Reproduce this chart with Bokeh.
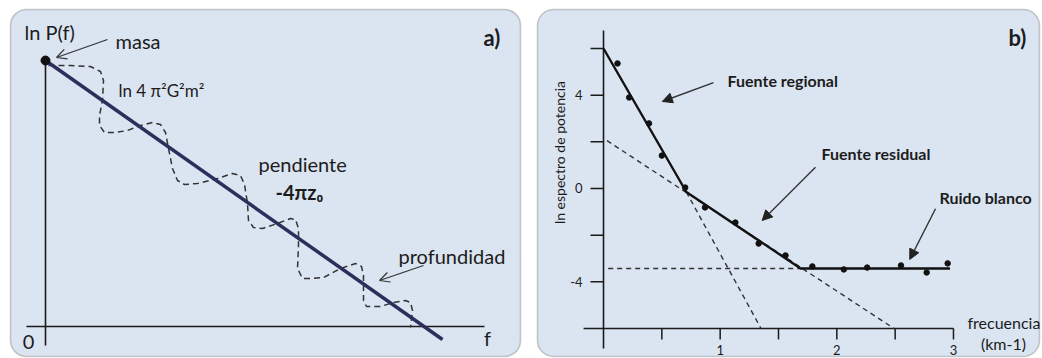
from bokeh.plotting import figure
from bokeh.layouts import row
from bokeh.models import BoxAnnotation, Arrow, OpenHead, NormalHead
from bokeh.core.properties import value
from bokeh.embed import file_html
from bokeh.resources import INLINE

FONT = value("Lato")
TXT = "#1c1c1c"
PANEL_FILL = "#dbe4f1"
PANEL_LINE = "#5a5a5a"
NAVY = "#2c2f5c"

# ---------------- panel a data (schematic units) ----------------
a_f_axis = [-19, 439]          # extent of the f axis
a_p_axis = [-19, 266]          # extent of the ln P(f) axis
a_line_f = [0, 397]            # straight spectrum line
a_line_lnp = [266, -13]
a_mass_point = (0, 266)
a_wave_f = [3, 25, 45, 55, 58, 57, 54, 54, 59, 70, 82, 95, 107, 115, 120, 123, 127, 132,
            139, 152, 172, 187, 195, 199, 202, 203, 208, 217, 232, 245, 250, 253, 253,
            252, 257, 267, 278, 295, 310, 316, 318, 318, 321, 335, 348, 360, 365, 367, 365]
a_wave_lnp = [261, 261, 260, 255, 246, 226, 211, 201, 194, 194, 196, 201, 204, 202, 194,
              178, 158, 146, 142, 143, 148, 153, 151, 142, 123, 106, 99, 98, 103, 108, 107,
              98, 81, 58, 48, 48, 49, 58, 63, 60, 51, 26, 20, 20, 24, 26, 24, 16, -1]

# ---------------- panel b data ----------------
b_freq = [0.12, 0.22, 0.39, 0.50, 0.70, 0.87, 1.13, 1.33, 1.56, 1.79, 2.06, 2.26, 2.55, 2.77, 2.95]
b_lnp = [5.36, 3.90, 2.79, 1.41, 0.04, -0.81, -1.46, -2.36, -2.87, -3.34, -3.47, -3.39, -3.30, -3.60, -3.21]
b_fit_x = [0.0, 0.71, 1.69, 2.97]
b_fit_y = [6.0, -0.15, -3.43, -3.43]
b_regional_x = [0.71, 1.35]
b_regional_y = [-0.15, -6.0]
b_residual_x = [0.03, 2.49]
b_residual_y = [2.05, -6.0]
b_noise_x = [0.04, 1.69]
b_noise_y = [-3.43, -3.43]
b_xticks = [0.5, 1.0, 1.5, 2.0, 2.5, 3.0]
b_yticks = [6, 4, 2, 0, -2, -4]
b_xlabels = ["1", "2", "3"]
b_xlabel_pos = [1.0, 2.0, 3.0]
b_ylabels = ["4", "0", "-4"]
b_ylabel_pos = [4, 0, -4]
b_x_axis_extent = [-0.171, 3.0]
b_y_axis_extent = [-6.86, 6.77]
b_x_axis_at = -6.0


def base_fig(w, h, xr, yr):
    p = figure(width=w, height=h, x_range=xr, y_range=yr, output_backend="svg",
               toolbar_location=None, x_axis_location=None, y_axis_location=None,
               min_border=0, outline_line_color=None)
    p.grid.visible = False
    p.background_fill_color = "white"
    p.border_fill_color = "white"
    return p


# ================= panel a =================
pa = base_fig(535, 358, (-45, 490), (-32, 326))
pa.add_layout(BoxAnnotation(left=-35, right=475, top=317, bottom=-30,
                            fill_color=PANEL_FILL, fill_alpha=1.0,
                            line_color=PANEL_LINE, line_width=1.6,
                            border_radius=16, level="underlay"))
pa.line([0, 0], a_p_axis, line_color="#1a1a1a", line_width=1.6)
pa.line(a_f_axis, [0, 0], line_color="#1a1a1a", line_width=1.6)
pa.line(a_wave_f, a_wave_lnp, line_color="#333333", line_width=1.5, line_dash="6 4")
pa.line(a_line_f, a_line_lnp, line_color=NAVY, line_width=3.5)
pa.scatter([a_mass_point[0]], [a_mass_point[1]], size=9, color="#111111")

pa.add_layout(Arrow(end=OpenHead(size=10, line_width=1.2, line_color="#333333"),
                    x_start=62, y_start=287, x_end=11, y_end=269,
                    line_width=1.2, line_color="#333333"))
pa.add_layout(Arrow(end=OpenHead(size=10, line_width=1.2, line_color="#333333"),
                    x_start=378, y_start=61, x_end=334, y_end=46,
                    line_width=1.2, line_color="#333333"))

pa.text(x=[-21, 70, 213, 353], y=[295, 286, 163, 71],
        text=["ln P(f)", "masa", "pendiente", "profundidad"],
        text_font=FONT, text_font_size="20px", text_color=TXT,
        text_align="left", text_baseline="middle")
pa.text(x=[73], y=[236], text=["ln 4 π²G²m²"], text_font=FONT, text_font_size="17px",
        text_color=TXT, text_align="left", text_baseline="middle")
pa.text(x=[230], y=[135], text=["-4πz₀"], text_font=FONT, text_font_size="20px",
        text_font_style="bold", text_color=TXT, text_align="left", text_baseline="middle")
pa.text(x=[438], y=[289], text=["a)"], text_font=FONT, text_font_size="22px",
        text_font_style="bold", text_color=TXT, text_align="left", text_baseline="middle")
pa.text(x=[-17, 442], y=[-15, -11], text=["0", "f"], text_font=FONT, text_font_size="20px",
        text_color=TXT, text_align="center", text_baseline="middle")

# ================= panel b =================
pb = base_fig(507, 358, (-0.583, 3.763), (-7.287, 8.058))
pb.add_layout(BoxAnnotation(left=-0.566, right=3.737, top=7.672, bottom=-7.20,
                            fill_color=PANEL_FILL, fill_alpha=1.0,
                            line_color=PANEL_LINE, line_width=1.6,
                            border_radius=16, level="underlay"))
# axes drawn in data space
pb.line([0, 0], b_y_axis_extent, line_color="#1a1a1a", line_width=1.6)
pb.line(b_x_axis_extent, [b_x_axis_at, b_x_axis_at], line_color="#1a1a1a", line_width=1.6)
ytick_len = 13 / 116.67
xtick_len = 11 / 23.33
pb.segment(x0=[-ytick_len] * len(b_yticks), y0=b_yticks, x1=[0] * len(b_yticks), y1=b_yticks,
           line_color="#1a1a1a", line_width=1.5)
pb.segment(x0=b_xticks, y0=[b_x_axis_at] * len(b_xticks), x1=b_xticks,
           y1=[b_x_axis_at - xtick_len] * len(b_xticks), line_color="#1a1a1a", line_width=1.5)
pb.text(x=[-0.18] * len(b_ylabels), y=b_ylabel_pos, text=b_ylabels, text_font=FONT,
        text_font_size="13px", text_color=TXT, text_align="right", text_baseline="middle")
pb.text(x=b_xlabel_pos, y=[-6.94] * len(b_xlabels), text=b_xlabels, text_font=FONT,
        text_font_size="13px", text_color=TXT, text_align="center", text_baseline="middle")

# dashed extensions
for xs, ys in [(b_regional_x, b_regional_y), (b_residual_x, b_residual_y), (b_noise_x, b_noise_y)]:
    pb.line(xs, ys, line_color="#333333", line_width=1.4, line_dash="5 4")
pb.line(b_fit_x, b_fit_y, line_color="#111111", line_width=2.4)
pb.scatter(b_freq, b_lnp, size=5.5, color="#111111")

for xs, ys, xe, ye in [(0.943, 4.54, 0.504, 3.73), (1.817, 0.91, 1.36, -1.37), (2.846, -0.87, 2.625, -3.04)]:
    pb.add_layout(Arrow(end=NormalHead(size=10, fill_color="#222222", line_color="#222222"),
                        x_start=xs, y_start=ys, x_end=xe, y_end=ye,
                        line_width=1.4, line_color="#333333"))

pb.text(x=[1.063, 1.869, 2.880], y=[4.63, 1.50, -0.386],
        text=["Fuente regional", "Fuente residual", "Ruido blanco"],
        text_font=FONT, text_font_size="16px", text_font_style="bold", text_color=TXT,
        text_align="left", text_baseline="middle")
pb.text(x=[3.471], y=[6.47], text=["b)"], text_font=FONT, text_font_size="22px",
        text_font_style="bold", text_color=TXT, text_align="left", text_baseline="middle")
pb.text(x=[3.12], y=[-5.74], text=["frecuencia"], text_font=FONT, text_font_size="16px",
        text_color=TXT, text_align="left", text_baseline="middle")
pb.text(x=[3.428], y=[-6.64], text=["(km-1)"], text_font=FONT, text_font_size="16px",
        text_color=TXT, text_align="center", text_baseline="middle")
pb.text(x=[-0.377], y=[1.54], text=["ln espectro de potencia"], text_font=FONT,
        text_font_size="14px", text_color=TXT, text_align="center", text_baseline="middle",
        angle=1.5707963)

layout = row(pa, pb)
open("out.html", "w").write(file_html(layout, INLINE))
